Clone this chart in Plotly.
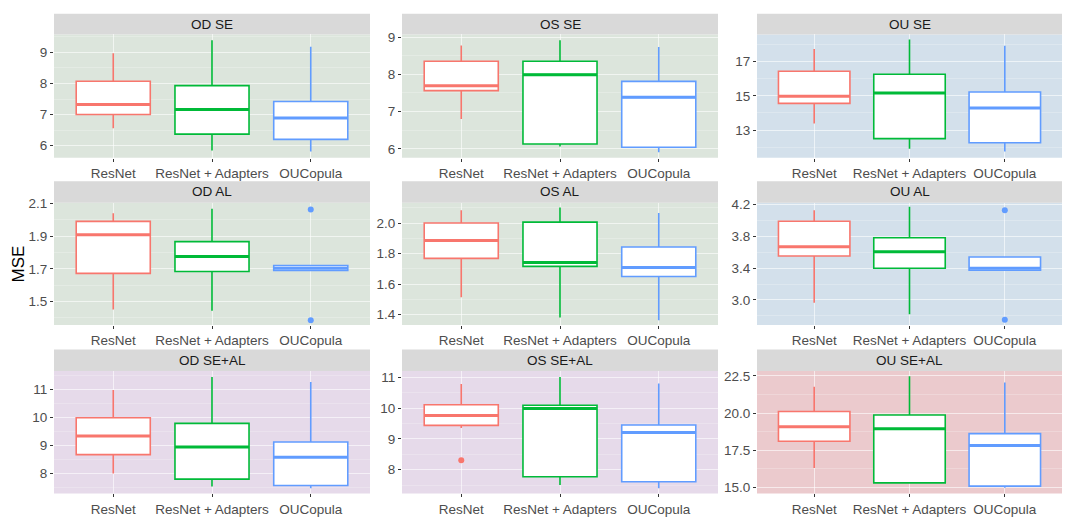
import plotly.graph_objects as go

W, H = 1065, 517

panels = ["OD SE", "OS SE", "OU SE",
          "OD AL", "OS AL", "OU AL",
          "OD SE+AL", "OS SE+AL", "OU SE+AL"]
methods = ["ResNet", "ResNet + Adapters", "OUCopula"]
colors = ["#F8766D", "#00BA38", "#619CFF"]

# box statistics per panel: [ResNet, ResNet + Adapters, OUCopula]
lower = [[6.56, 5.84, 5.81], [6.80, 6.06, 5.91], [13.39, 11.90, 11.75],
         [1.452, 1.444, 1.690], [1.514, 1.381, 1.363], [2.963, 2.821, 3.375],
         [8.01, 7.55, 7.48], [9.35, 7.50, 7.40], [16.30, 15.29, 14.96]]
q1 = [[7.00, 6.37, 6.20], [7.56, 6.13, 6.04], [14.56, 12.50, 12.26],
      [1.672, 1.684, 1.690], [1.768, 1.716, 1.649], [3.554, 3.400, 3.375],
      [8.68, 7.81, 7.58], [9.44, 7.77, 7.61], [18.10, 15.29, 15.07]]
median = [[7.32, 7.16, 6.89], [7.69, 7.99, 7.38], [14.98, 15.17, 14.29],
          [1.908, 1.776, 1.704], [1.886, 1.742, 1.708], [3.671, 3.608, 3.400],
          [9.34, 8.95, 8.59], [9.76, 9.99, 9.21], [19.07, 18.94, 17.81]]
q3 = [[8.07, 7.93, 7.42], [8.35, 8.35, 7.81], [16.44, 16.27, 15.23],
      [1.990, 1.866, 1.720], [2.000, 2.006, 1.843], [3.992, 3.783, 3.542],
      [9.99, 9.79, 9.13], [10.11, 10.09, 9.45], [20.11, 19.87, 18.61]]
upper = [[8.97, 9.39, 9.18], [8.77, 8.91, 8.73], [17.75, 18.30, 17.93],
         [2.040, 2.068, 1.720], [2.084, 2.101, 2.065], [4.129, 4.175, 3.542],
         [10.98, 11.44, 11.26], [10.78, 11.01, 10.80], [21.77, 22.48, 22.06]]
# outliers: (panel index, method index, values)
outliers = [(3, 2, [2.062, 1.386]), (5, 2, [4.129, 2.750]), (7, 0, [8.31])]

# axis settings per panel
y_ranges = [[5.61, 9.58], [5.76, 9.07], [11.38, 18.6],
            [1.356, 2.104], [1.331, 2.133], [2.683, 4.225],
            [7.30, 11.65], [7.23, 11.2], [14.58, 22.83]]
y_dtick = [1, 1, 2, 0.2, 0.2, 0.4, 1, 1, 2.5]
y_tick0 = [0, 0, 1, 0.1, 0, 0.2, 0, 0, 0]
y_fmt = ["d", "d", "d", ".1f", ".1f", ".1f", "d", "d", ".1f"]
bg = ["#DCE5DC", "#DCE5DC", "#D3E0EB",
      "#DCE5DC", "#DCE5DC", "#D3E0EB",
      "#E6DAEA", "#E6DAEA", "#EBCACD"]

col_px = [(54, 370), (402, 718), (757, 1062)]
row_px = [(28, 154), (200, 325), (372, 497)]
strip_px = [(7, 28), (178, 200), (350, 372)]


def fx(px):
    return px / W


def fy(py):
    return 1 - py / H


FONT = "Liberation Sans, Arial"
fig = go.Figure()
shapes = []
annotations = []
layout = {}

for p in range(9):
    r, c = divmod(p, 3)
    n = p + 1
    xa = "x" if n == 1 else f"x{n}"
    ya = "y" if n == 1 else f"y{n}"
    x0, x1 = col_px[c]
    yt, yb = row_px[r]
    st, sb = strip_px[r]
    for m in range(3):
        xpos = m + 1
        fig.add_trace(go.Box(
            x=[xpos], q1=[q1[p][m]], median=[median[p][m]], q3=[q3[p][m]],
            lowerfence=[lower[p][m]], upperfence=[upper[p][m]],
            width=0.75, whiskerwidth=0, fillcolor="white",
            line=dict(color=colors[m], width=1.6),
            boxpoints=False, showlegend=False, hoverinfo="skip",
            xaxis=xa, yaxis=ya))
        fig.add_trace(go.Scatter(
            x=[xpos - 0.375, xpos + 0.375], y=[median[p][m], median[p][m]],
            mode="lines", line=dict(color=colors[m], width=3),
            showlegend=False, hoverinfo="skip", xaxis=xa, yaxis=ya))
    for (pi, mi, vals) in outliers:
        if pi == p:
            fig.add_trace(go.Scatter(
                x=[mi + 1] * len(vals), y=vals, mode="markers",
                marker=dict(color=colors[mi], size=6),
                showlegend=False, hoverinfo="skip", xaxis=xa, yaxis=ya))
    layout["xaxis" if n == 1 else f"xaxis{n}"] = dict(
        domain=[fx(x0), fx(x1)], anchor=ya, range=[0.4, 3.6],
        tickmode="array", tickvals=[1, 2, 3], ticktext=methods,
        showgrid=True, gridcolor="rgba(255,255,255,0.6)", gridwidth=1,
        zeroline=False, showline=False,
        ticks="outside", ticklen=3, tickcolor="#333333",
        tickfont=dict(family=FONT, size=13.5, color="#4D4D4D"),
        fixedrange=True)
    layout["yaxis" if n == 1 else f"yaxis{n}"] = dict(
        domain=[fy(yb), fy(yt)], anchor=xa, range=y_ranges[p],
        tickmode="linear", dtick=y_dtick[p], tick0=y_tick0[p],
        tickformat=y_fmt[p],
        showgrid=True, gridcolor="rgba(255,255,255,0.6)", gridwidth=1,
        minor=dict(dtick=y_dtick[p] / 2, tick0=y_tick0[p], showgrid=True,
                   gridcolor="rgba(255,255,255,0.38)", gridwidth=0.6, ticklen=0),
        zeroline=False, showline=False,
        ticks="outside", ticklen=3, tickcolor="#333333",
        tickfont=dict(family=FONT, size=13.5, color="#4D4D4D"),
        fixedrange=True)
    shapes.append(dict(type="rect", xref="paper", yref="paper",
                       x0=fx(x0), x1=fx(x1), y0=fy(yb), y1=fy(yt),
                       fillcolor=bg[p], line=dict(width=0), layer="below"))
    shapes.append(dict(type="rect", xref="paper", yref="paper",
                       x0=fx(x0), x1=fx(x1), y0=fy(sb), y1=fy(st),
                       fillcolor="#D9D9D9", line=dict(width=0), layer="below"))
    annotations.append(dict(text=panels[p], xref="paper", yref="paper",
                            x=fx((x0 + x1) / 2), y=fy((st + sb) / 2),
                            xanchor="center", yanchor="middle", showarrow=False,
                            font=dict(family=FONT, size=13.5, color="#1A1A1A")))

annotations.append(dict(text="MSE", xref="paper", yref="paper",
                        x=fx(18), y=fy(262), textangle=-90,
                        xanchor="center", yanchor="middle", showarrow=False,
                        font=dict(family=FONT, size=17, color="#000000")))

fig.update_layout(
    width=W, height=H, margin=dict(l=0, r=0, t=0, b=0),
    paper_bgcolor="white", plot_bgcolor="rgba(0,0,0,0)",
    shapes=shapes, annotations=annotations, showlegend=False,
    hovermode=False,
    **layout)

# pin the plot to the top-left corner of the window (no page margins)
post = ("document.documentElement.style.margin='0';"
        "document.body.style.margin='0';"
        "document.body.style.overflow='hidden';"
        "var d=document.getElementById('{plot_id}');"
        "d.style.position='fixed';d.style.left='0px';d.style.top='0px';")

fig.write_html("out.html", post_script=post,
               config={"displayModeBar": False, "staticPlot": True})
